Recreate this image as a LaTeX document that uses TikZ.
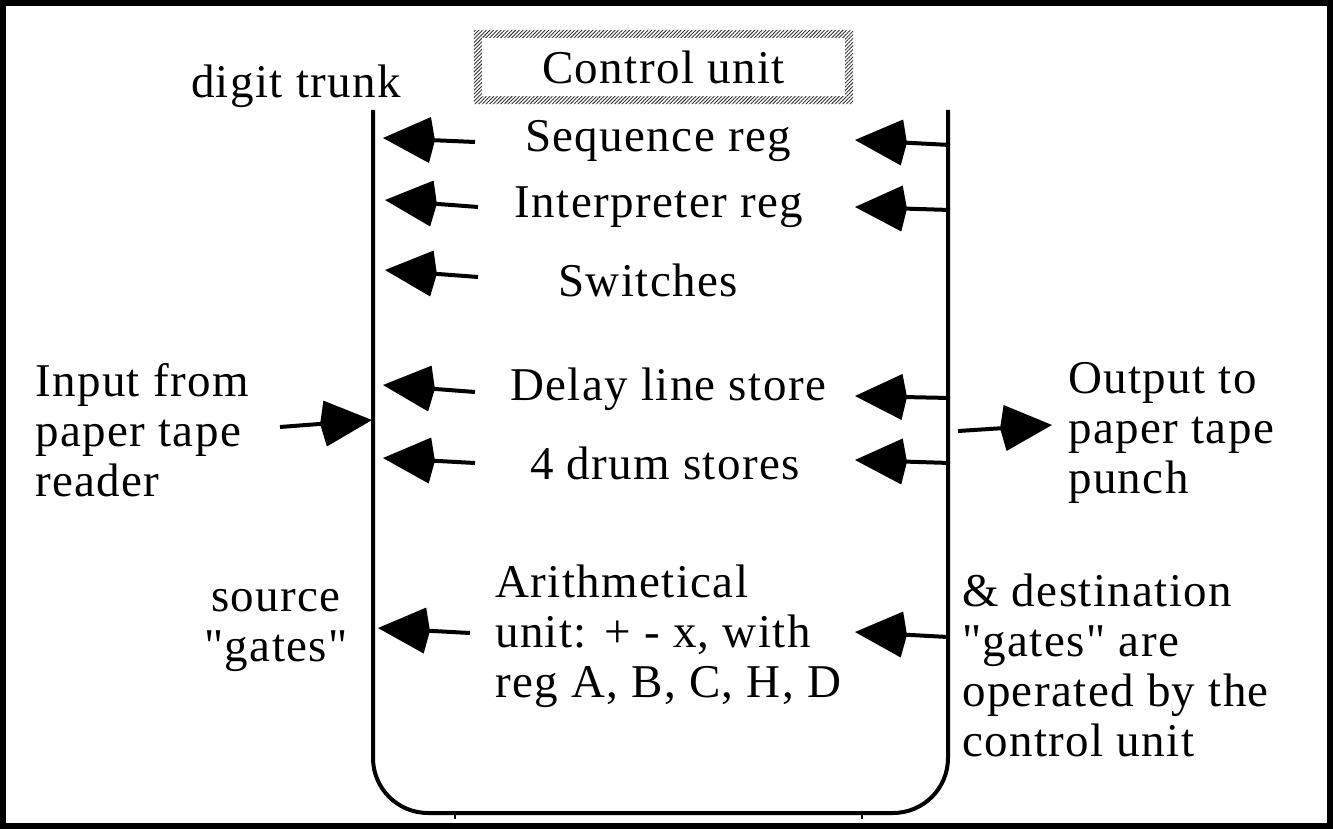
\documentclass[tikz,border=0pt]{standalone}
\usepackage{fontspec}
\defaultfontfeatures[\rmfamily]{}
\setmainfont{Liberation Serif}[LetterSpace=3]
\usetikzlibrary{arrows.meta,patterns.meta}
\begin{document}
\begin{tikzpicture}[x=1pt,y=-1pt,
  lbl/.style={font=\fontsize{47}{50}\selectfont, inner sep=0pt},
  arr/.style={line width=4pt, -{Kite[length=52pt,width=46pt,inset=5pt]}},
  trunk/.style={line width=4pt},
  frame/.style={line width=6pt}]
\useasboundingbox (0,0) rectangle (1333,829);
\draw[frame] (3,3) rectangle (1330,826);
% control unit
\node[lbl, minimum width=379pt, minimum height=74pt] (cu) at (663.5,67) {Control unit};
\fill[pattern={Lines[angle=45,distance=2.6pt,line width=0.9pt]}, pattern color=black!80, even odd rule]
  (cu.north west) rectangle (cu.south east)
  ([shift={(8,8)}]cu.north west) rectangle ([shift={(-8,-8)}]cu.south east);
% trunk
\coordinate (Ltop) at (373,110);
\coordinate (Rtop) at (948,110);
\coordinate (Lbot) at (373,813);
\coordinate (Rbot) at (948,813);
\draw[trunk, rounded corners=55pt] (Ltop) -- (Lbot) -- (Rbot) -- (Rtop);
\draw[line width=2pt] (455,813) -- (455,819) (862,813) -- (862,819);
% labels
\node[lbl] (dt) at (296,86) {digit trunk};
\node[lbl] (seq) at (658,141) {Sequence reg};
\node[lbl] (int) at (659,207) {Interpreter reg};
\node[lbl] (sw) at (648,280) {Switches};
\node[lbl] (dl) at (668,389) {Delay line store};
\node[lbl] (dr) at (665,463) {4 drum stores};
\node[lbl, align=left, anchor=west] (ar) at (495,636) {Arithmetical\\unit: + - x, with\\reg A, B, C, H, D};
\node[lbl, align=left, anchor=west] (in) at (35,430) {Input from\\paper tape\\reader};
\node[lbl, align=left, anchor=west] (out) at (1068,433) {Output to\\paper tape\\punch};
\node[lbl, align=center] (src) at (276,630) {source\\"gates"};
\node[lbl, align=left, anchor=west] (dst) at (962,665) {\& destination\\"gates" are\\operated by the\\control unit};
% left arrow coordinates (tail, tip)
\coordinate (l1s) at (475,142); \coordinate (l1e) at (383,138);
\coordinate (l2s) at (478,207); \coordinate (l2e) at (385,200);
\coordinate (l3s) at (478,277); \coordinate (l3e) at (385,270);
\coordinate (l4s) at (475,392); \coordinate (l4e) at (383,385);
\coordinate (l5s) at (475,463); \coordinate (l5e) at (383,458);
\coordinate (l6s) at (470,633); \coordinate (l6e) at (378,628);
% right arrow coordinates
\coordinate (r1s) at (950,145); \coordinate (r1e) at (855,140);
\coordinate (r2s) at (950,210); \coordinate (r2e) at (855,207);
\coordinate (r4s) at (950,398); \coordinate (r4e) at (855,396);
\coordinate (r5s) at (950,463); \coordinate (r5e) at (855,460);
\coordinate (r6s) at (948,637); \coordinate (r6e) at (855,632);
% in/out
\coordinate (ins) at (280,427); \coordinate (ine) at (372,420);
\coordinate (outs) at (958,431); \coordinate (oute) at (1052,425);
\foreach \a in {l1,l2,l3,l4,l5,l6,r1,r2,r4,r5,r6,in,out}
  \draw[arr] (\a s) -- (\a e);
\end{tikzpicture}
\end{document}
